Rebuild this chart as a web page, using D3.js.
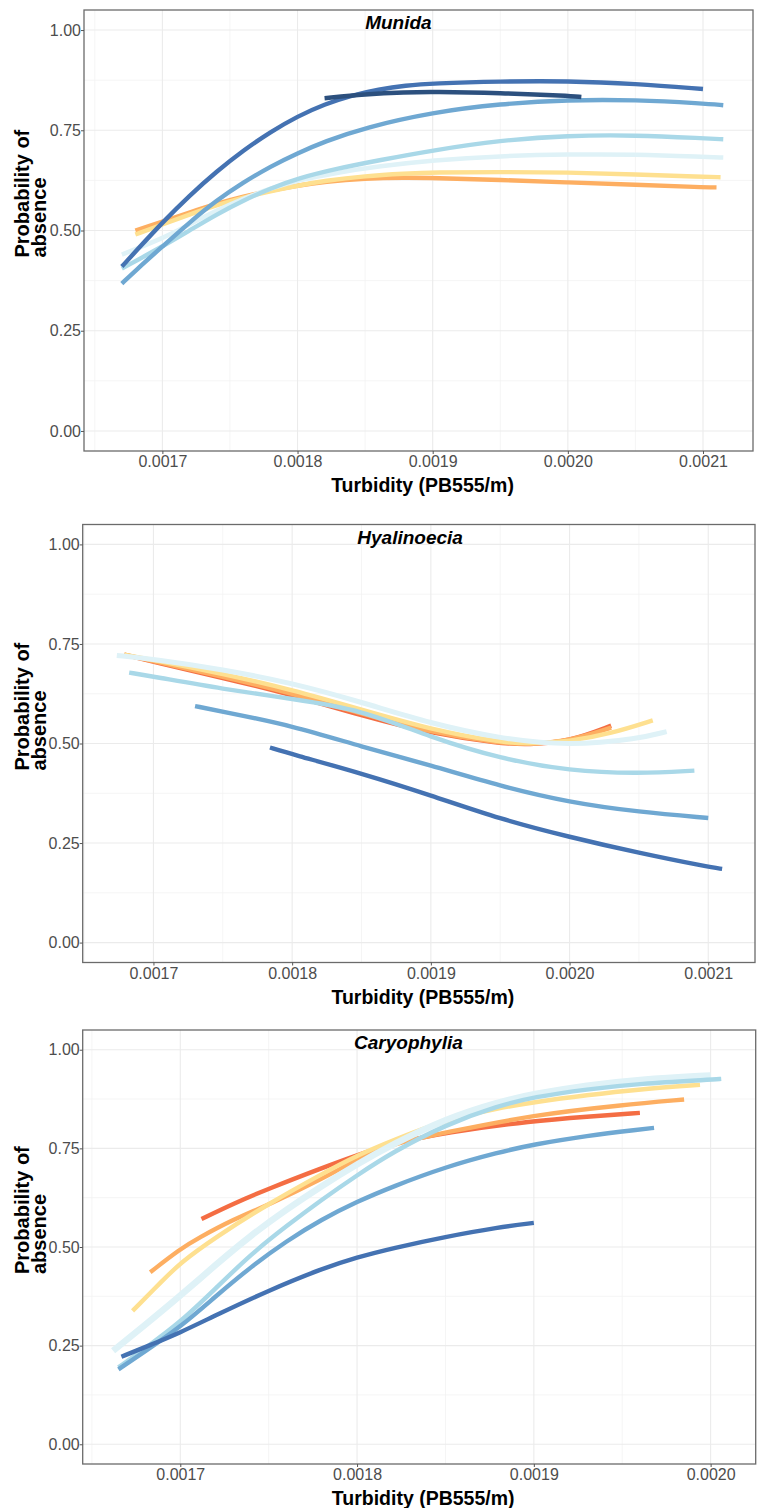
<!DOCTYPE html>
<html>
<head>
<meta charset="utf-8">
<script src="https://cdn.jsdelivr.net/npm/d3@7"></script>
<style>
body { margin: 0; background: #fff; }
text { font-family: "Liberation Sans", Arial, sans-serif; }
</style>
</head>
<body>
<div id="chart"></div>
<script>
var width = 760;
var height = 1508;

// tick values
var yTicks = [0, 0.25, 0.5, 0.75, 1];
var xTicksMunida = [0.0017, 0.0018, 0.0019, 0.0020, 0.0021];
var xTicksHyal = [0.0017, 0.0018, 0.0019, 0.0020, 0.0021];
var xTicksCaryo = [0.0017, 0.0018, 0.0019, 0.0020];

// Munida curves [turbidity, probability]
var munidaNavy = [[0.00182,0.830],[0.00185,0.840],[0.00188,0.845],[0.0019,0.846],[0.00195,0.843],[0.0020,0.836],[0.00201,0.833]];
var munidaDark = [[0.00167,0.41],[0.00168,0.447],[0.0017,0.52],[0.00172,0.587],[0.00174,0.647],[0.00176,0.70],[0.00178,0.746],[0.0018,0.785],[0.00182,0.815],[0.00184,0.837],[0.00186,0.852],[0.00188,0.862],[0.0019,0.867],[0.00195,0.872],[0.002,0.873],[0.00205,0.866],[0.0021,0.853]];
var munidaMid = [[0.00167,0.3675],[0.00168,0.40],[0.0017,0.46],[0.00172,0.52],[0.00174,0.575],[0.00176,0.62],[0.00178,0.66],[0.0018,0.693],[0.00182,0.722],[0.00185,0.757],[0.0019,0.795],[0.00195,0.816],[0.002,0.826],[0.00205,0.826],[0.0021,0.817],[0.002115,0.8125]];
var munidaLight = [[0.00167,0.405],[0.0017,0.46],[0.00172,0.50],[0.00174,0.54],[0.00176,0.575],[0.00178,0.605],[0.0018,0.63],[0.00183,0.655],[0.00186,0.675],[0.0019,0.70],[0.00195,0.725],[0.002,0.737],[0.00205,0.738],[0.0021,0.73],[0.002115,0.7275]];
var munidaPale = [[0.00167,0.44],[0.0017,0.48],[0.00172,0.515],[0.00174,0.55],[0.00176,0.58],[0.00178,0.605],[0.0018,0.625],[0.00183,0.645],[0.00186,0.66],[0.0019,0.675],[0.00195,0.686],[0.002,0.69],[0.00205,0.69],[0.0021,0.684],[0.002115,0.682]];
var munidaYellow = [[0.00168,0.49],[0.0017,0.515],[0.00172,0.54],[0.00174,0.563],[0.00176,0.583],[0.00178,0.598],[0.0018,0.612],[0.00182,0.624],[0.00185,0.636],[0.00188,0.642],[0.0019,0.645],[0.00195,0.646],[0.002,0.645],[0.00205,0.64],[0.0021,0.634],[0.002113,0.633]];
var munidaOrange = [[0.00168,0.50],[0.0017,0.522],[0.00172,0.545],[0.00174,0.567],[0.00176,0.585],[0.00178,0.60],[0.0018,0.612],[0.00182,0.622],[0.00185,0.63],[0.00188,0.632],[0.0019,0.631],[0.00195,0.626],[0.002,0.62],[0.00205,0.614],[0.0021,0.608],[0.00211,0.6075]];

// Hyalinoecia curves
var hyalDark = [[0.001784,0.49],[0.0018,0.473],[0.00185,0.425],[0.0019,0.37],[0.00195,0.31],[0.002,0.265],[0.00205,0.225],[0.0021,0.19],[0.00211,0.185]];
var hyalMid = [[0.00173,0.594],[0.00175,0.58],[0.0018,0.545],[0.00185,0.492],[0.0019,0.445],[0.00195,0.393],[0.002,0.352],[0.00205,0.328],[0.0021,0.313]];
var hyalLight = [[0.0016825,0.678],[0.0017,0.668],[0.00175,0.637],[0.0018,0.612],[0.00185,0.585],[0.0019,0.515],[0.00195,0.462],[0.002,0.431],[0.00205,0.424],[0.00209,0.432]];
var hyalPale = [[0.0016736,0.721],[0.0017,0.712],[0.00175,0.686],[0.0018,0.652],[0.00185,0.604],[0.0019,0.55],[0.00195,0.512],[0.002,0.494],[0.00205,0.512],[0.00207,0.53]];
var hyalYellow = [[0.001679,0.723],[0.0017,0.71],[0.00175,0.675],[0.0018,0.635],[0.00185,0.585],[0.0019,0.535],[0.00195,0.503],[0.00197,0.499],[0.002,0.505],[0.00203,0.525],[0.00206,0.558]];
var hyalOrange = [[0.001679,0.723],[0.0017,0.707],[0.00175,0.668],[0.0018,0.626],[0.00185,0.575],[0.0019,0.528],[0.00195,0.501],[0.00197,0.498],[0.002,0.506],[0.00203,0.54]];
var hyalRed = [[0.001679,0.723],[0.0017,0.705],[0.00175,0.665],[0.0018,0.622],[0.00185,0.57],[0.0019,0.525],[0.00195,0.50],[0.00197,0.497],[0.002,0.505],[0.00203,0.545]];

// Caryophylia curves
var caryoDark = [[0.0016667,0.222],[0.00168,0.246],[0.0017,0.283],[0.00172,0.327],[0.00175,0.39],[0.00178,0.445],[0.0018,0.474],[0.00182,0.497],[0.00185,0.526],[0.00188,0.55],[0.0019,0.561]];
var caryoMid = [[0.001665,0.19],[0.00168,0.235],[0.0017,0.297],[0.00172,0.375],[0.00174,0.45],[0.00176,0.515],[0.00178,0.57],[0.0018,0.615],[0.00182,0.653],[0.00185,0.703],[0.00188,0.74],[0.0019,0.76],[0.00193,0.782],[0.00196,0.798],[0.001968,0.802]];
var caryoLight = [[0.001665,0.195],[0.00168,0.243],[0.0017,0.309],[0.00172,0.395],[0.00174,0.482],[0.00176,0.553],[0.00178,0.62],[0.0018,0.682],[0.00182,0.74],[0.00185,0.81],[0.00188,0.858],[0.0019,0.88],[0.00193,0.9],[0.00196,0.914],[0.002,0.924],[0.002006,0.926]];
var caryoPale = [[0.001662,0.237],[0.00168,0.302],[0.0017,0.376],[0.00172,0.455],[0.00174,0.53],[0.00176,0.595],[0.00178,0.655],[0.0018,0.71],[0.00182,0.76],[0.00185,0.825],[0.00188,0.868],[0.0019,0.888],[0.00193,0.91],[0.00196,0.925],[0.002,0.935]];
var caryoYellow = [[0.001673,0.338],[0.00169,0.415],[0.0017,0.46],[0.00172,0.525],[0.00175,0.61],[0.00178,0.685],[0.0018,0.732],[0.00182,0.77],[0.00185,0.822],[0.00188,0.852],[0.0019,0.867],[0.00193,0.885],[0.00196,0.90],[0.001994,0.911]];
var caryoOrange = [[0.001683,0.436],[0.0017,0.495],[0.00171,0.522],[0.00173,0.57],[0.00175,0.607],[0.00178,0.672],[0.0018,0.722],[0.00182,0.762],[0.00185,0.79],[0.0019,0.835],[0.00195,0.86],[0.001985,0.874]];
var caryoRed = [[0.001712,0.571],[0.00173,0.61],[0.00175,0.648],[0.00178,0.70],[0.0018,0.733],[0.00182,0.762],[0.00185,0.79],[0.0019,0.82],[0.00193,0.83],[0.00196,0.84]];

var colors = {
  navy: "#2c507e", dark: "#4472b2", mid: "#6fa8d2", light: "#a9d8e8",
  pale: "#dff2f7", yellow: "#fee090", orange: "#fdae61", red: "#f46d43"};
var drawOrder = ["red", "orange", "yellow", "pale", "light", "mid", "dark", "navy"];

var panels = [
  {title: "Munida", left: 84, right: 753, top: 10, bottom: 451,
   xDomain: [0.001642, 0.002137], xTicks: xTicksMunida, titleAt: 0.47, paleWidth: 4.5,
   series: {navy: munidaNavy, dark: munidaDark, mid: munidaMid, light: munidaLight,
            pale: munidaPale, yellow: munidaYellow, orange: munidaOrange}},
  {title: "Hyalinoecia", left: 82.7, right: 755, top: 524.5, bottom: 962.5,
   xDomain: [0.001649, 0.0021337], xTicks: xTicksHyal, titleAt: 0.487, paleWidth: 5,
   series: {dark: hyalDark, mid: hyalMid, light: hyalLight, pale: hyalPale,
            yellow: hyalYellow, orange: hyalOrange, red: hyalRed}},
  {title: "Caryophylia", left: 82.7, right: 755.7, top: 1030, bottom: 1464,
   xDomain: [0.0016448, 0.0020255], xTicks: xTicksCaryo, titleAt: 0.484, paleWidth: 6.5,
   series: {dark: caryoDark, mid: caryoMid, light: caryoLight, pale: caryoPale,
            yellow: caryoYellow, orange: caryoOrange, red: caryoRed}}
];

var svg = d3.select("#chart")
  .append("svg")
    .attr("width", width)
    .attr("height", height);

svg.append("rect")
  .attr("width", width)
  .attr("height", height)
  .attr("fill", "#fff");

function minors(ticks, domain){
  var step = ticks[1] - ticks[0];
  var out = [];
  for (var v = ticks[0] - step / 2; v <= domain[1] + 1e-12; v += step){
    if (v >= domain[0]) out.push(v);
  }
  return out;
}

panels.forEach(function(p){
  var x = d3.scaleLinear().domain(p.xDomain).range([p.left, p.right]);
  var y = d3.scaleLinear().domain([-0.05, 1.05]).range([p.bottom, p.top]);
  var g = svg.append("g");

  // grid
  g.selectAll(".xminor")
    .data(minors(p.xTicks, p.xDomain))
    .enter().append("line")
      .attr("x1", d => x(d)).attr("x2", d => x(d))
      .attr("y1", p.top).attr("y2", p.bottom)
      .attr("stroke", "#f3f3f3").attr("stroke-width", 0.8);
  g.selectAll(".yminor")
    .data(minors(yTicks, [-0.05, 1.05]))
    .enter().append("line")
      .attr("y1", d => y(d)).attr("y2", d => y(d))
      .attr("x1", p.left).attr("x2", p.right)
      .attr("stroke", "#f3f3f3").attr("stroke-width", 0.8);
  g.selectAll(".xmajor")
    .data(p.xTicks)
    .enter().append("line")
      .attr("x1", d => x(d)).attr("x2", d => x(d))
      .attr("y1", p.top).attr("y2", p.bottom)
      .attr("stroke", "#ebebeb").attr("stroke-width", 1.1);
  g.selectAll(".ymajor")
    .data(yTicks)
    .enter().append("line")
      .attr("y1", d => y(d)).attr("y2", d => y(d))
      .attr("x1", p.left).attr("x2", p.right)
      .attr("stroke", "#ebebeb").attr("stroke-width", 1.1);

  // curves
  var line = d3.line()
    .x(d => x(d[0]))
    .y(d => y(d[1]))
    .curve(d3.curveBasis);
  drawOrder.forEach(function(k){
    if (!p.series[k]) return;
    g.append("path")
      .datum(p.series[k])
      .attr("d", line)
      .attr("fill", "none")
      .attr("stroke", colors[k])
      .attr("stroke-width", k == "pale" ? p.paleWidth : 4.4);
  });

  // box
  g.append("rect")
    .attr("x", p.left).attr("y", p.top)
    .attr("width", p.right - p.left).attr("height", p.bottom - p.top)
    .attr("fill", "none").attr("stroke", "#6b6b6b").attr("stroke-width", 1.3);

  // axes
  var xAxis = g.append("g")
    .attr("transform", "translate(0," + p.bottom + ")")
    .call(d3.axisBottom(x).tickValues(p.xTicks).tickFormat(d3.format(".4f")).tickSize(3).tickPadding(2));
  var yAxis = g.append("g")
    .attr("transform", "translate(" + p.left + ",0)")
    .call(d3.axisLeft(y).tickValues(yTicks).tickFormat(d3.format(".2f")).tickSize(3).tickPadding(0));
  [xAxis, yAxis].forEach(function(a){
    a.attr("font-size", null).attr("font-family", null);
    a.select(".domain").remove();
    a.selectAll(".tick line").attr("stroke", "#555");
    a.selectAll(".tick text")
      .attr("fill", "#4d4d4d")
      .style("font-size", "16px")
      .style("font-family", "'Liberation Sans', Arial, sans-serif");
  });

  // titles
  g.append("text")
    .attr("x", p.left + p.titleAt * (p.right - p.left))
    .attr("y", p.top + 19)
    .attr("text-anchor", "middle")
    .style("font-size", "19px")
    .style("font-weight", "bold")
    .style("font-style", "italic")
    .text(p.title);

  g.append("text")
    .attr("x", (p.left + p.right) / 2 + 4)
    .attr("y", p.bottom + 41)
    .attr("text-anchor", "middle")
    .style("font-size", "19.5px")
    .style("font-weight", "bold")
    .text("Turbidity (PB555/m)");

  var cy = (p.top + p.bottom) / 2 + 27;
  var yt = g.append("text")
    .attr("transform", "translate(0," + cy + ") rotate(-90)")
    .attr("text-anchor", "start")
    .style("font-size", "20px")
    .style("font-weight", "bold");
  yt.append("tspan").attr("x", 0).attr("y", 29).text("Probability of");
  yt.append("tspan").attr("x", 0).attr("y", 46).text("absence");
});
</script>
</body>
</html>
